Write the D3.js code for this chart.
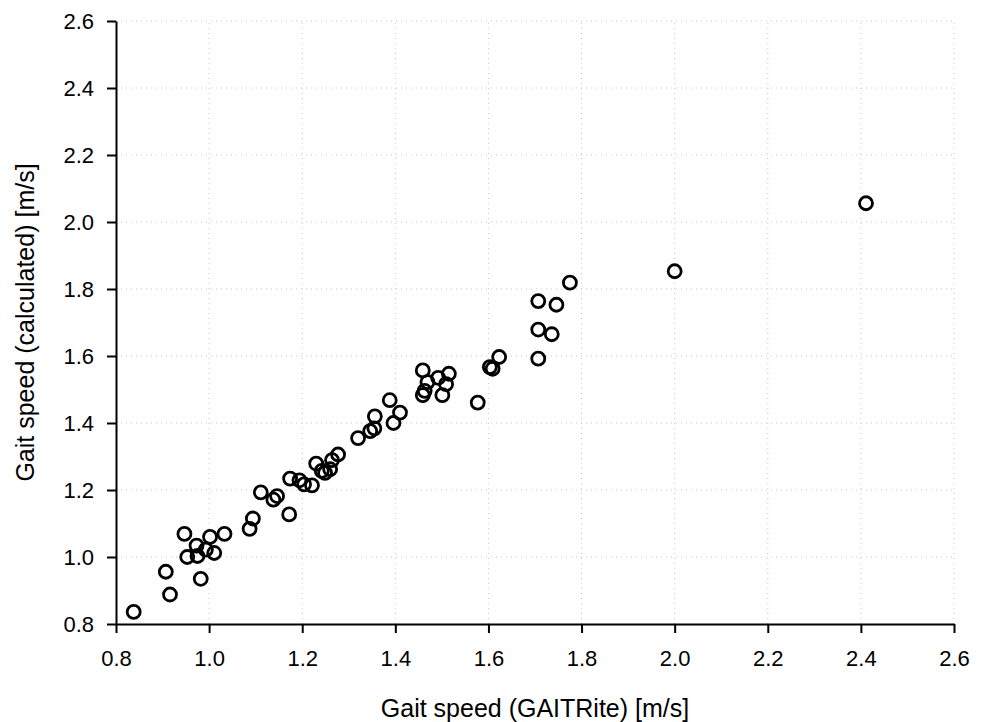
<!DOCTYPE html>
<html>
<head>
<meta charset="utf-8">
<script src="https://cdn.jsdelivr.net/npm/d3@7"></script>
<style>
  body { margin: 0; background: #fff; }
  text { font-family: "Liberation Sans", Arial, sans-serif; }
</style>
</head>
<body>
<div class="scatter-plot"></div>
<script>
// gait speed measured by GAITRite vs calculated, m/s
const gaitrite = [0.838, 0.916, 0.907, 0.982, 0.947, 0.953, 0.973, 0.975, 0.993, 1.002, 1.011, 1.033,
    1.087, 1.094, 1.111, 1.138, 1.146, 1.172, 1.174, 1.194, 1.204, 1.221,
    1.230, 1.242, 1.249, 1.260, 1.264, 1.277, 1.320, 1.346, 1.355, 1.356, 1.388, 1.396, 1.410,
    1.459, 1.459, 1.463, 1.469, 1.492, 1.501, 1.509, 1.515, 1.577, 1.603, 1.609, 1.623,
    1.707, 1.707, 1.736, 1.707, 1.746, 1.775, 2.000, 2.411]
const calculated = [0.836, 0.888, 0.956, 0.935, 1.069, 1.000, 1.034, 1.003, 1.022, 1.060, 1.012, 1.069,
    1.084, 1.115, 1.193, 1.171, 1.182, 1.127, 1.234, 1.229, 1.217, 1.214,
    1.279, 1.257, 1.251, 1.262, 1.289, 1.306, 1.355, 1.376, 1.384, 1.420, 1.468, 1.400, 1.431,
    1.557, 1.483, 1.496, 1.522, 1.535, 1.483, 1.516, 1.547, 1.461, 1.567, 1.562, 1.597,
    1.592, 1.679, 1.665, 1.764, 1.753, 1.819, 1.853, 2.056]
const xTicks = [0.8, 1.0, 1.2, 1.4, 1.6, 1.8, 2.0, 2.2, 2.4, 2.6]
const yTicks = [0.8, 1.0, 1.2, 1.4, 1.6, 1.8, 2.0, 2.2, 2.4, 2.6]

const data = gaitrite.map((g,i)=>({x: g, y: calculated[i]}))

const width = 984
const height = 722
const margin = {left: 116, right: 30, top: 21, bottom: 98}

const svg = d3.select('.scatter-plot').append('svg').attr('width', width).attr('height', height)

const x = d3.scaleLinear().domain([0.8, 2.6]).range([margin.left, 954])
const y = d3.scaleLinear().domain([0.8, 2.6]).range([624, margin.top])

// dotted grid
svg.selectAll('line.vgrid')
    .data(xTicks.slice(1))
    .enter()
    .append('line')
    .attr('x1', d=>x(d)).attr('x2', d=>x(d))
    .attr('y1', y(0.8)).attr('y2', y(2.6))
    .attr('stroke', '#c8c8c8')
    .attr('stroke-width', 1)
    .attr('stroke-dasharray', '1,4')
svg.selectAll('line.hgrid')
    .data(yTicks.slice(1))
    .enter()
    .append('line')
    .attr('x1', x(0.8)).attr('x2', x(2.6))
    .attr('y1', d=>y(d)).attr('y2', d=>y(d))
    .attr('stroke', '#c8c8c8')
    .attr('stroke-width', 1)
    .attr('stroke-dasharray', '1,4')

svg.append('g')
    .attr('transform', `translate(0,${y(0.8)})`)
    .call(d3.axisBottom(x).tickValues(xTicks).tickFormat(d3.format('.1f')).tickSize(9).tickSizeOuter(0).tickPadding(17))
svg.append('g')
    .attr('transform', `translate(${x(0.8)},0)`)
    .call(d3.axisLeft(y).tickValues(yTicks).tickFormat(d3.format('.1f')).tickSize(9).tickSizeOuter(0).tickPadding(13))

svg.selectAll('.domain, .tick line').attr('stroke', '#000').attr('stroke-width', 2)
svg.selectAll('.tick text')
    .attr('font-size', 22)
    .attr('fill', '#000')
    .attr('font-family', '"Liberation Sans", Arial, sans-serif')

svg.selectAll('circle')
    .data(data)
    .enter()
    .append('circle')
    .attr('cx', d=>x(d.x))
    .attr('cy', d=>y(d.y))
    .attr('r', 6.5)
    .attr('fill', 'none')
    .attr('stroke', '#000')
    .attr('stroke-width', 2.8)

svg.append('text')
    .text('Gait speed (GAITRite) [m/s]')
    .attr('x', (x(0.8)+x(2.6))/2)
    .attr('y', 717)
    .attr('font-size', 25)
    .attr('text-anchor', 'middle')
    .attr('fill', '#000')

svg.append('text')
    .text('Gait speed (calculated) [m/s]')
    .attr('transform', `translate(34,${(y(0.8)+y(2.6))/2}) rotate(-90)`)
    .attr('font-size', 25)
    .attr('text-anchor', 'middle')
    .attr('fill', '#000')
</script>
</body>
</html>
